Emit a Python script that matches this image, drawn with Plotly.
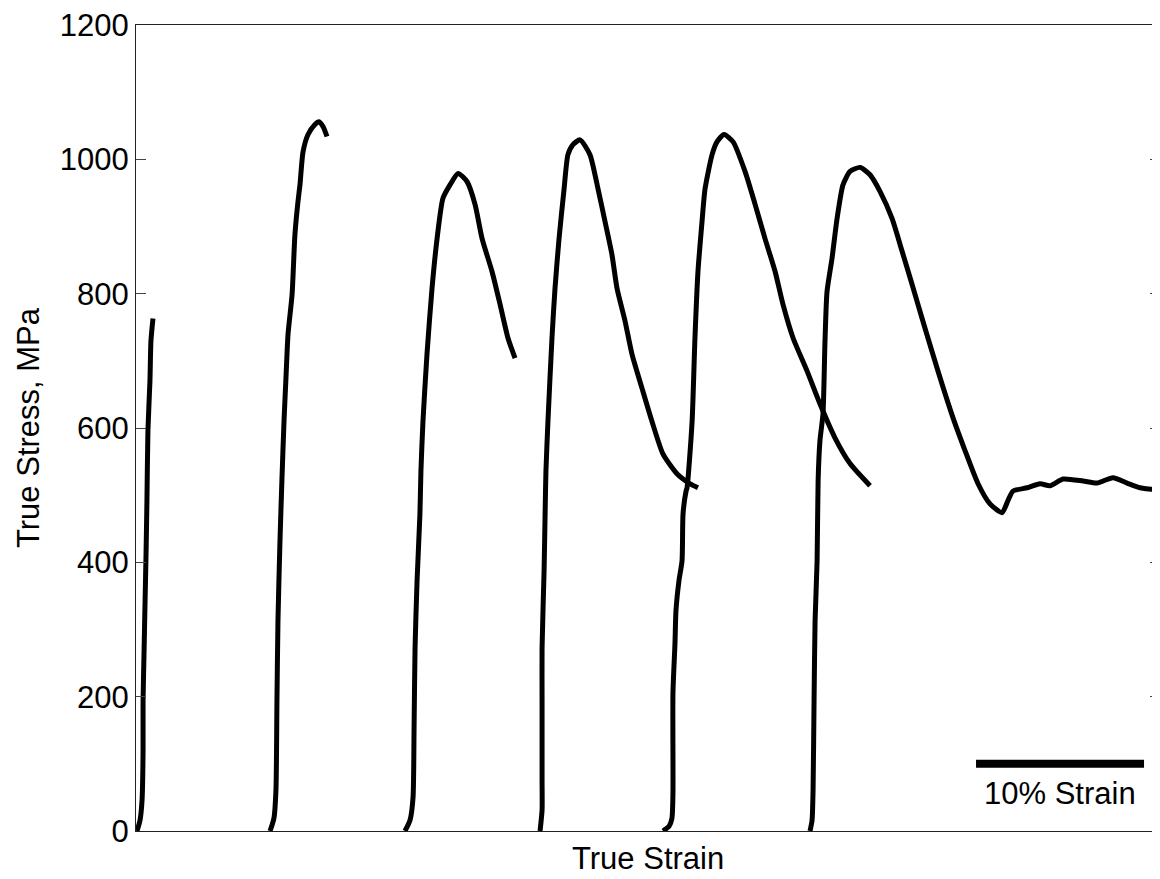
import plotly.graph_objects as go

# True strain in percent, true stress in MPa (six specimens, offset along strain)
s1_strain = [0.06, 0.24, 0.36, 0.42, 0.42, 0.48, 0.54, 0.60, 0.65, 0.71, 0.83, 0.89, 1.01]
s1_stress = [0, 16, 46, 119, 193, 267, 342, 416, 490, 596, 670, 730, 763]

s2_strain = [7.98, 8.21, 8.33, 8.39, 8.45, 8.57, 8.69, 8.81, 8.93, 9.05, 9.29, 9.46, 9.64, 9.76,
             9.94, 10.24, 10.65, 10.89, 11.13, 11.37]
s2_stress = [0, 19, 61, 195, 313, 432, 526, 610, 677, 740, 799, 888, 937, 962,
             1011, 1037, 1052, 1056, 1049, 1034]

s3_strain = [16.01, 16.31, 16.49, 16.55, 16.61, 16.73, 16.90, 16.96, 17.08, 17.32, 17.62, 17.92,
             18.27, 18.69, 19.17, 19.70, 20.18, 20.60, 21.19, 21.67, 22.14, 22.56]
s3_stress = [0, 16, 50, 150, 273, 373, 472, 536, 610, 710, 808, 882,
             942, 962, 979, 967, 933, 882, 833, 784, 734, 704]

s4_strain = [24.05, 24.17, 24.17, 24.17, 24.17, 24.29, 24.35, 24.40, 24.52, 24.76, 24.94, 25.18,
             25.48, 25.71, 26.01, 26.43, 27.02, 27.50, 27.92, 28.33, 28.63, 29.11, 29.52,
             30.12, 30.71, 31.37, 32.20, 32.98, 33.45]
s4_stress = [0, 31, 76, 195, 273, 388, 472, 536, 610, 734, 808, 882,
             956, 1007, 1022, 1029, 1007, 956, 907, 858, 808, 759, 710,
             659, 610, 561, 532, 517, 511]

s5_strain = [31.37, 31.73, 31.90, 31.96, 31.96, 32.08, 32.14, 32.32, 32.50, 32.56, 32.74, 32.80,
             33.10, 33.27, 33.45, 33.69, 33.87, 34.29, 34.58, 35.00, 35.54, 36.25, 36.85,
             37.44, 38.04, 38.51, 39.11, 39.94, 40.71, 41.61, 42.50, 43.69]
s5_stress = [0, 7, 19, 56, 205, 279, 328, 373, 402, 472, 506, 511,
             610, 734, 833, 907, 956, 1007, 1026, 1037, 1026, 982, 933,
             882, 833, 784, 734, 685, 636, 585, 547, 514]

s6_strain = [40.12, 40.24, 40.30, 40.36, 40.42, 40.54, 40.60, 40.71, 40.89, 41.01, 41.13, 41.43,
             41.73, 42.08, 42.50, 43.10, 43.69, 44.29, 45.00, 45.60, 46.19, 46.79, 47.38,
             47.98, 48.63, 49.35, 50.12, 50.83, 51.55, 51.90, 52.20, 53.04, 53.81, 54.40,
             55.18, 56.37, 57.20, 58.15, 58.99, 59.76, 60.54, 60.95]
s6_stress = [0, 16, 61, 195, 313, 402, 521, 581, 621, 729, 803, 853,
             912, 962, 982, 988, 977, 952, 912, 863, 814, 763, 714,
             665, 615, 566, 517, 487, 474, 492, 506, 511, 517, 514,
             524, 521, 518, 526, 518, 511, 509, 511]

scalebar_strain = [50, 60]
scalebar_stress = [100, 100]
scalebar_label = "10% Strain"

y_ticks = [0, 200, 400, 600, 800, 1000, 1200]

FONT = "Arial, 'Liberation Sans', Helvetica, sans-serif"

fig = go.Figure()
for xs, ys in [(s1_strain, s1_stress), (s2_strain, s2_stress), (s3_strain, s3_stress),
               (s4_strain, s4_stress), (s5_strain, s5_stress), (s6_strain, s6_stress)]:
    fig.add_trace(go.Scatter(x=xs, y=ys, mode="lines",
                             line=dict(color="black", width=5, shape="spline", smoothing=0.6),
                             showlegend=False, hoverinfo="skip"))

fig.add_trace(go.Scatter(x=scalebar_strain, y=scalebar_stress, mode="lines",
                         line=dict(color="black", width=8), showlegend=False, hoverinfo="skip"))

# invisible trace to host right-side tick axis
fig.add_trace(go.Scatter(x=[None], y=[None], yaxis="y2", showlegend=False, hoverinfo="skip"))

fig.add_annotation(x=sum(scalebar_strain) / 2, y=56, text=scalebar_label, showarrow=False,
                   xanchor="center", yanchor="middle", font=dict(size=31, color="black", family=FONT))

fig.add_annotation(xref="paper", yref="paper", x=0, y=0.5, xshift=-108, text="True Stress, MPa",
                   textangle=-90, showarrow=False, xanchor="center", yanchor="middle",
                   font=dict(size=31, color="black", family=FONT))
fig.add_annotation(xref="paper", yref="paper", x=0.5, y=0, yshift=-27, text="True Strain",
                   showarrow=False, xanchor="center", yanchor="middle",
                   font=dict(size=31, color="black", family=FONT))

# page body adds an 8px margin; the figure is sized so the plot lands where the reference has it
fig.update_layout(
    width=1152, height=871,
    margin=dict(l=128, r=0, t=15, b=48),
    paper_bgcolor="white", plot_bgcolor="white",
    font=dict(family=FONT, size=31, color="black"),
    xaxis=dict(range=[0, 60.95], showgrid=False, zeroline=False, showticklabels=False,
               ticks="", showline=True, linecolor="#222", linewidth=1, mirror=True),
    yaxis=dict(range=[0, 1200], tickvals=y_ticks, showgrid=False, zeroline=False,
               ticks="inside", ticklen=10, tickcolor="#444", showline=True, linecolor="#222",
               linewidth=1, ticklabeloverflow="allow",
               tickfont=dict(size=31, family=FONT, color="black")),
    yaxis2=dict(range=[0, 1200], tickvals=y_ticks, overlaying="y", side="right",
                showgrid=False, zeroline=False, showticklabels=False, ticks="inside",
                ticklen=10, tickcolor="#444", showline=False),
)

fig.write_html("out.html")
